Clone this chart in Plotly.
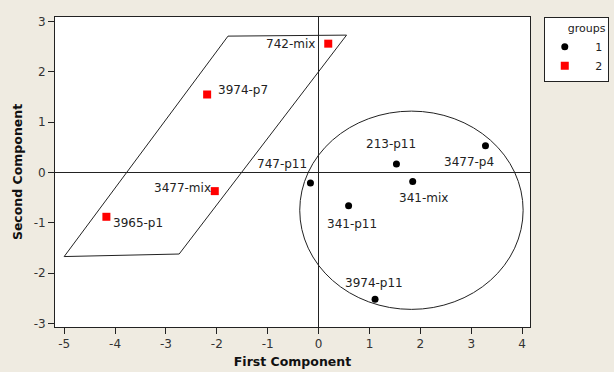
import plotly.graph_objects as go

# ---- data ----
g1_names = ["747-p11", "341-p11", "213-p11", "341-mix", "3477-p4", "3974-p11"]
g1_x = [-0.16, 0.59, 1.53, 1.85, 3.28, 1.11]
g1_y = [-0.21, -0.66, 0.17, -0.18, 0.53, -2.52]

g2_names = ["742-mix", "3974-p7", "3477-mix", "3965-p1"]
g2_x = [0.19, -2.19, -2.04, -4.17]
g2_y = [2.56, 1.55, -0.37, -0.88]

# parallelogram outline around group 2 (data coords)
para_x = [-1.78, 0.55, -2.74, -5.0]
para_y = [2.71, 2.73, -1.62, -1.67]
# ellipse around group 1 (bounding box, data coords)
circ_x = [-0.37, 4.02]
circ_y = [-2.72, 1.22]

x_ticks = [-5, -4, -3, -2, -1, 0, 1, 2, 3, 4]
x_tick_labels = ["-5", "-4", "-3", "-2", "-1", "0", "1", "2", "3", "4"]
y_ticks = [-3, -2, -1, 0, 1, 2, 3]
y_tick_labels = ["-3", "-2", "-1", "0", "1", "2", "3"]

# label offsets in pixels (dx right, dy up)
g1_off = [(-28, 19), (3, -18), (-5, 20), (11, -16), (-16, -16), (-1, 16)]
g2_off = [(-38, 0), (36, 5), (-32, 3), (32, -6)]

FONT = "DejaVu Sans"
BG = "#EFEBE1"

fig = go.Figure()
fig.add_trace(go.Scatter(
    x=g1_x, y=g1_y, mode="markers", name="   1",
    marker=dict(symbol="circle", size=7, color="black"),
    hoverinfo="skip"))
fig.add_trace(go.Scatter(
    x=g2_x, y=g2_y, mode="markers", name="   2",
    marker=dict(symbol="square", size=8, color="#FF0000"),
    hoverinfo="skip"))

for names, xs, ys, offs in [(g1_names, g1_x, g1_y, g1_off),
                            (g2_names, g2_x, g2_y, g2_off)]:
    for n, x, y, (dx, dy) in zip(names, xs, ys, offs):
        fig.add_annotation(x=x, y=y, text=n, showarrow=False,
                           xshift=dx, yshift=dy,
                           font=dict(family=FONT, size=12, color="#222"))

path = "M " + " L ".join(f"{x},{y}" for x, y in zip(para_x, para_y)) + " Z"
fig.add_shape(type="path", path=path, xref="x", yref="y",
              line=dict(color="#222", width=1))
fig.add_shape(type="circle", xref="x", yref="y",
              x0=circ_x[0], x1=circ_x[1], y0=circ_y[0], y1=circ_y[1],
              line=dict(color="#222", width=1))

axis_common = dict(
    showgrid=False, showline=True, linecolor="#222", linewidth=1, mirror=True,
    ticks="outside", ticklen=6, tickcolor="#222",
    zeroline=True, zerolinecolor="#222", zerolinewidth=1,
    tickfont=dict(family=FONT, size=12, color="#333"),
)

fig.update_layout(
    width=614, height=372,
    margin=dict(l=55, r=84, t=17, b=45, autoexpand=False),
    paper_bgcolor=BG, plot_bgcolor="white",
    xaxis=dict(range=[-5.18, 4.155], tickvals=x_ticks, ticktext=x_tick_labels,
               title=dict(text="<b>First Component</b>", standoff=6,
                          font=dict(family=FONT, size=12.5, color="#111")),
               **axis_common),
    yaxis=dict(range=[-3.07, 3.09], tickvals=y_ticks, ticktext=y_tick_labels,
               title=dict(text="<b>Second Component</b>", standoff=8,
                          font=dict(family=FONT, size=12.5, color="#111")),
               **axis_common),
    showlegend=True,
    legend=dict(
        x=1.029, y=1.0, xanchor="left", yanchor="top",
        bgcolor="white", bordercolor="#222", borderwidth=1,
        font=dict(family=FONT, size=11, color="#222"),
        title=dict(text="groups", side="top right",
                   font=dict(family=FONT, size=11, color="#222")),
        itemwidth=30, tracegroupgap=0,
    ),
)

fig.write_html(
    "out.html",
    config={"displayModeBar": False},
    post_script="document.body.style.margin='0';"
                "document.body.style.background='" + BG + "';"
                "document.body.style.overflow='hidden';",
)
